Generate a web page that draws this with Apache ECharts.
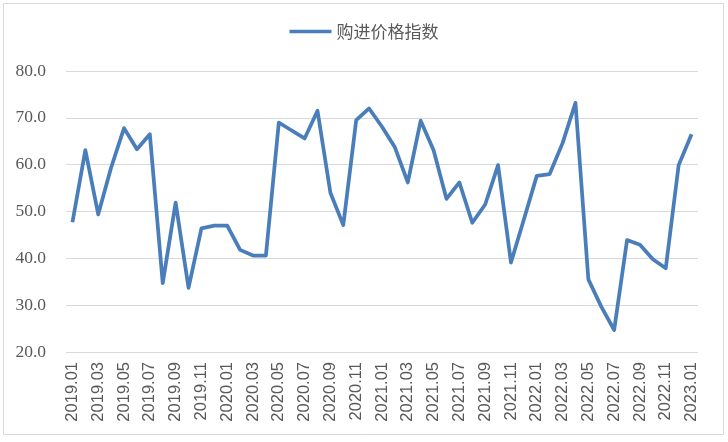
<!DOCTYPE html>
<html>
<head>
<meta charset="utf-8">
<script src="https://cdn.jsdelivr.net/npm/echarts@6/dist/echarts.min.js"></script>
<style>
html,body{margin:0;padding:0;background:#fff;}
#chart{width:728px;height:442px;}
</style>
</head>
<body>
<div id="chart"></div>
<script>
const categories = [
  '2019.01','2019.02','2019.03','2019.04','2019.05','2019.06','2019.07','2019.08','2019.09','2019.10','2019.11','2019.12',
  '2020.01','2020.02','2020.03','2020.04','2020.05','2020.06','2020.07','2020.08','2020.09','2020.10','2020.11','2020.12',
  '2021.01','2021.02','2021.03','2021.04','2021.05','2021.06','2021.07','2021.08','2021.09','2021.10','2021.11','2021.12',
  '2022.01','2022.02','2022.03','2022.04','2022.05','2022.06','2022.07','2022.08','2022.09','2022.10','2022.11','2022.12',
  '2023.01'
];
const seriesName = '购进价格指数';
const purchasePriceIndex = [
  47.7, 63.1, 49.4, 59.4, 67.8, 63.3, 66.5, 34.7, 51.9, 33.7, 46.4, 47.0,
  47.0, 41.8, 40.6, 40.6, 69.0, 67.3, 65.6, 71.5, 54.0, 47.1, 69.5, 72.0,
  68.1, 63.7, 56.2, 69.4, 63.1, 52.7, 56.2, 47.6, 51.5, 59.9, 39.1, 48.3,
  57.6, 58.0, 64.6, 73.2, 35.5, 29.7, 24.7, 43.9, 42.9, 39.8, 37.9, 59.9,
  66.5
];
const yMin = 20, yMax = 80, yStep = 10;

const chart = echarts.init(document.getElementById('chart'));
chart.setOption({
  animation: false,
  backgroundColor: '#ffffff',
  graphic: [{
    type: 'rect',
    shape: { x: 3.5, y: 3.5, width: 720, height: 431 },
    style: { fill: 'none', stroke: '#d9d9d9', lineWidth: 1 },
    silent: true
  }],
  legend: {
    top: 18,
    left: 'center',
    itemWidth: 42,
    itemHeight: 14,
    itemGap: 4,
    icon: 'path://M0,5.2 L42,5.2 L42,8.8 L0,8.8 Z',
    textStyle: { color: '#595959', fontSize: 17, fontFamily: '"Noto Sans CJK SC", sans-serif' },
    data: [seriesName]
  },
  grid: { left: 66, right: 30, top: 71, bottom: 90 },
  xAxis: {
    type: 'category',
    data: categories,
    boundaryGap: true,
    axisLine: { show: false },
    axisTick: { show: false },
    axisLabel: {
      interval: 1,
      rotate: 90,
      margin: 10,
      color: '#595959',
      fontSize: 16.5,
      fontFamily: '"Liberation Sans", Arial, sans-serif'
    }
  },
  yAxis: {
    type: 'value',
    min: yMin,
    max: yMax,
    interval: yStep,
    axisLine: { show: false },
    axisTick: { show: false },
    splitLine: { lineStyle: { color: '#d9d9d9', width: 1 } },
    axisLabel: {
      formatter: v => v.toFixed(1),
      color: '#595959',
      fontSize: 17.5,
      margin: 20,
      fontFamily: '"Liberation Serif", "DejaVu Serif", serif'
    }
  },
  series: [{
    name: seriesName,
    type: 'line',
    data: purchasePriceIndex,
    symbol: 'none',
    lineStyle: { color: '#4a7ebb', width: 3.75, join: 'round' },
    itemStyle: { color: '#4a7ebb' }
  }]
});
</script>
</body>
</html>
